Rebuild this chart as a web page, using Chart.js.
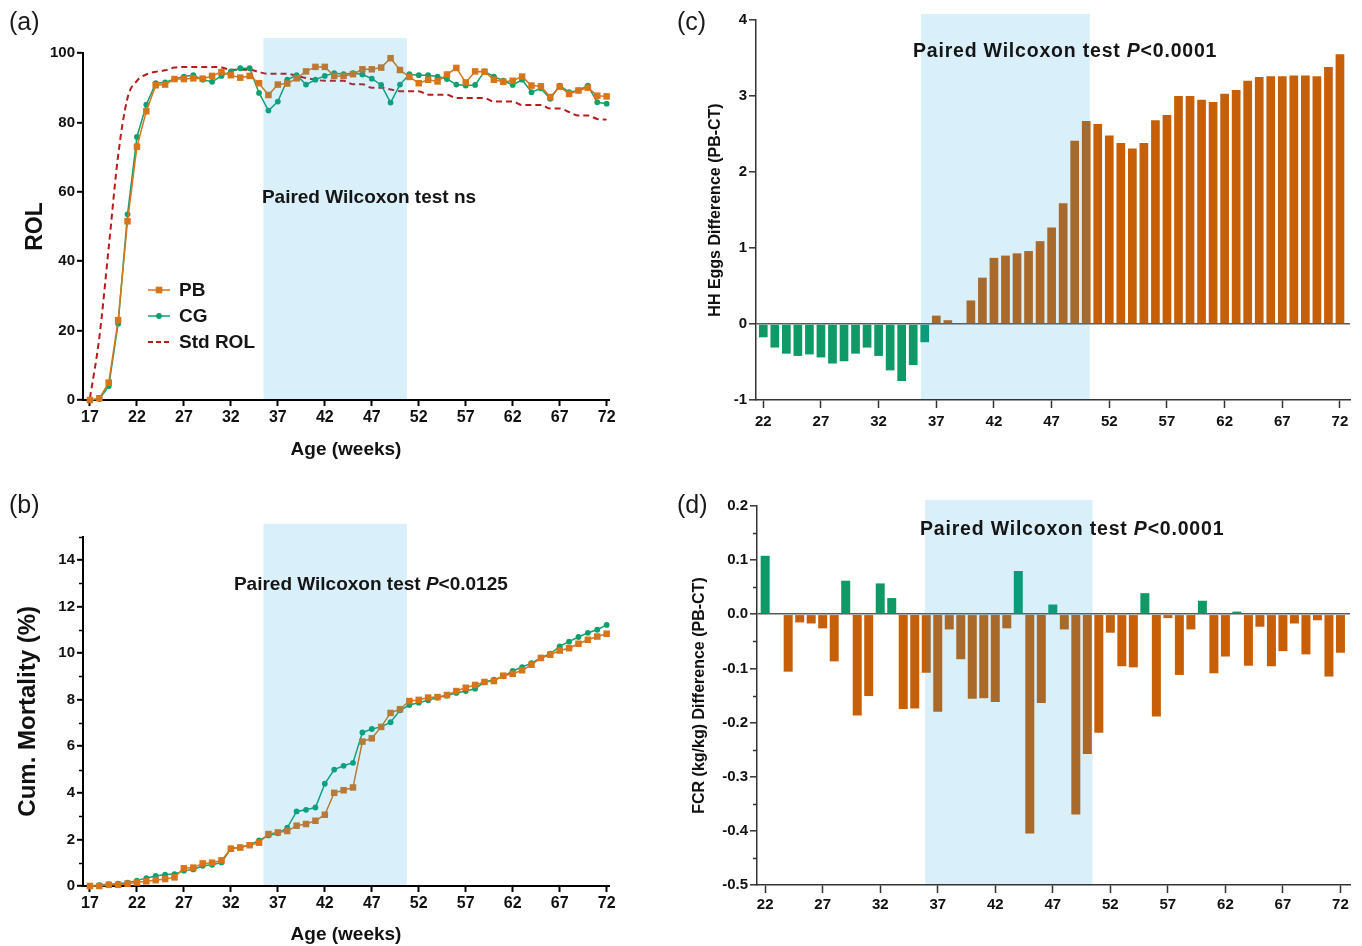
<!DOCTYPE html>
<html><head><meta charset="utf-8">
<script src="https://cdn.jsdelivr.net/npm/chart.js@4.4.1/dist/chart.umd.min.js"></script>
<style>
html,body{margin:0;padding:0;background:#fff;}
body{width:1362px;height:946px;position:relative;overflow:hidden;font-family:"Liberation Sans",Arial,sans-serif;}
canvas{position:absolute;}
.lbl{position:absolute;font-size:25px;color:#1a1a1a;line-height:1;}
</style></head><body>
<canvas id="ca" width="681" height="473" style="left:0;top:0"></canvas>
<canvas id="cb" width="681" height="473" style="left:0;top:473px"></canvas>
<canvas id="cc" width="681" height="473" style="left:681px;top:0"></canvas>
<canvas id="cd" width="681" height="473" style="left:681px;top:473px"></canvas>
<div class="lbl" style="left:9px;top:9px">(a)</div>
<div class="lbl" style="left:9px;top:492px">(b)</div>
<div class="lbl" style="left:677px;top:9px">(c)</div>
<div class="lbl" style="left:677px;top:492px">(d)</div>
<script>
// ---------------- DATA ----------------
const weeks=[17,18,19,20,21,22,23,24,25,26,27,28,29,30,31,32,33,34,35,36,37,38,39,40,41,42,43,44,45,46,47,48,49,50,51,52,53,54,55,56,57,58,59,60,61,62,63,64,65,66,67,68,69,70,71,72];
const rolPB=[0,0.5,5,23,51.5,73.0,83.2,90.7,90.9,92.5,92.5,92.7,92.6,93.4,94.5,93.6,92.9,93.4,91.3,87.9,90.9,91.2,92.7,94.7,96.0,96.0,93.4,93.4,93.9,95.3,95.3,95.8,98.5,95.1,93.1,91.3,92.3,91.8,93.8,95.7,91.5,94.7,94.6,92.3,91.7,92.0,93.2,90.6,90.4,87.3,90.3,88.2,89.2,90.0,87.7,87.5];
const rolCG=[0,0.3,4,22,53.5,75.8,85.1,91.3,91.5,92.5,93.2,93.6,92.3,91.7,93.4,94.7,95.6,95.6,88.5,83.4,86.0,92.3,93.6,90.9,92.3,93.4,94.2,93.9,94.2,93.8,92.6,90.8,85.7,90.9,93.9,93.6,93.6,93.2,92.5,90.9,90.6,90.8,94.7,93.2,92.0,90.8,92.3,88.7,89.8,86.8,90.6,88.7,89.2,90.6,85.8,85.4];
const rolStd=[0.5,18,44,70.5,87,92,93.8,94.6,95,95.8,96,96,96,96,95.8,95.2,95.2,95.2,94.5,94,94,94,93.4,92.8,92.3,92,92,92,91,91,90,90,89.5,89,89,89,88,88,88,87,87,87,87,86,86,86,85,85,85,84,84,83,82,82,81,80.8];
const mortPB=[0,0,0.05,0.05,0.1,0.15,0.2,0.25,0.3,0.37,0.76,0.79,0.97,1.0,1.1,1.6,1.65,1.75,1.86,2.23,2.3,2.36,2.59,2.66,2.8,3.06,4.0,4.11,4.23,6.2,6.34,6.83,7.43,7.59,7.94,7.99,8.09,8.11,8.2,8.37,8.51,8.63,8.76,8.8,9.03,9.11,9.26,9.5,9.79,9.93,10.11,10.21,10.4,10.57,10.71,10.83];
const mortCG=[0,0.04,0.08,0.1,0.14,0.23,0.34,0.43,0.49,0.51,0.66,0.71,0.87,0.91,1.01,1.61,1.66,1.76,1.96,2.17,2.26,2.5,3.2,3.27,3.37,4.39,5.0,5.16,5.29,6.59,6.74,6.83,7.03,7.54,7.77,7.87,7.97,8.09,8.17,8.29,8.37,8.47,8.76,8.86,9.0,9.23,9.4,9.57,9.8,9.97,10.29,10.49,10.69,10.87,11.0,11.21];
const barWeeks=[22,23,24,25,26,27,28,29,30,31,32,33,34,35,36,37,38,39,40,41,42,43,44,45,46,47,48,49,50,51,52,53,54,55,56,57,58,59,60,61,62,63,64,65,66,67,68,69,70,71,72];
const hhDiff=[-0.175,-0.31,-0.39,-0.42,-0.40,-0.44,-0.52,-0.49,-0.39,-0.31,-0.42,-0.61,-0.75,-0.54,-0.24,0.11,0.05,0,0.31,0.61,0.87,0.90,0.93,0.96,1.09,1.27,1.59,2.41,2.67,2.63,2.48,2.38,2.31,2.38,2.68,2.75,3.0,3.0,2.95,2.92,3.03,3.08,3.2,3.25,3.26,3.26,3.27,3.27,3.26,3.38,3.55];
const fcrDiff=[0.108,0,-0.106,-0.015,-0.017,-0.026,-0.087,0.062,-0.187,-0.151,0.057,0.030,-0.175,-0.174,-0.108,-0.180,-0.028,-0.083,-0.156,-0.155,-0.162,-0.026,0.080,-0.405,-0.164,0.018,-0.028,-0.370,-0.258,-0.219,-0.034,-0.096,-0.098,0.039,-0.189,-0.007,-0.112,-0.028,0.025,-0.109,-0.078,0.005,-0.095,-0.023,-0.096,-0.068,-0.017,-0.074,-0.011,-0.115,-0.071];
const ageTicks=[17,22,27,32,37,42,47,52,57,62,67,72];
const barTicks=[22,27,32,37,42,47,52,57,62,67,72];
const rolTicks=[0,20,40,60,80,100];
const mortTicks=[0,2,4,6,8,10,12,14];
const mortMinor=[1,3,5,7,9,11,13,15];
const hhTicks=[-1,0,1,2,3,4];
const fcrTicks=[-0.5,-0.4,-0.3,-0.2,-0.1,0,0.1,0.2];
const fcrMinor=[-0.45,-0.35,-0.25,-0.15,-0.05,0.05,0.15];
const seriesNames=['PB','CG','Std ROL'];
const testA='ns', testB='0.0125', testCD='0.0001';

// ---------------- STYLE ----------------
const FONT='"Liberation Sans", Arial, Helvetica, sans-serif';
const C_OR='#D8741A', C_GR='#0FA06D', C_RED='#B71C1C', C_BOR='#C65F08', C_BGR='#0E9966';
const SHADE='rgba(10,158,229,0.155)';
Chart.defaults.font.family=FONT;
Chart.defaults.color='#111';
Chart.defaults.animation=false;

const shadePlugin={id:'shade',afterDatasetsDraw(chart,args,o){
  const {ctx,scales:{x,y},chartArea}=chart;
  const x0=x.getPixelForValue(o.from),x1=x.getPixelForValue(o.to);
  const yT=y.getPixelForValue(o.top),yB=chartArea.bottom-1;
  ctx.save();ctx.fillStyle=SHADE;ctx.fillRect(x0,yT,x1-x0,yB-yT);ctx.restore();
}};
const notePlugin={id:'note',afterDraw(chart,args,o){
  const {ctx,scales:{x,y}}=chart;
  const cx=x.getPixelForValue(o.x),cy=y.getPixelForValue(o.y);
  ctx.save();
  ctx.letterSpacing=(o.spacing||0)+'px';
  ctx.fillStyle='#151515';ctx.textBaseline='middle';ctx.textAlign='left';
  const fN='bold '+o.size+'px '+FONT, fI='italic bold '+o.size+'px '+FONT;
  let w=0;o.parts.forEach(p=>{ctx.font=p.i?fI:fN;w+=ctx.measureText(p.t).width;});
  let cur=cx-w/2;
  o.parts.forEach(p=>{ctx.font=p.i?fI:fN;ctx.fillText(p.t,cur,cy);cur+=ctx.measureText(p.t).width;});
  ctx.letterSpacing='0px';
  ctx.restore();
}};
const minorPlugin={id:'minor',afterDraw(chart,args,o){
  if(!o.values)return;
  const {ctx,scales:{y},chartArea}=chart;
  ctx.save();ctx.strokeStyle=o.color;ctx.lineWidth=o.width;
  o.values.forEach(v=>{const py=Math.round(y.getPixelForValue(v))+0.5;ctx.beginPath();ctx.moveTo(chartArea.left-o.len,py);ctx.lineTo(chartArea.left,py);ctx.stroke();});
  ctx.restore();
}};
const legendPlugin={id:'customLegend',afterDraw(chart,args,o){
  if(!o.items)return;
  const {ctx}=chart;
  ctx.save();
  o.items.forEach((it,i)=>{
    const yy=o.y+i*o.dy;
    ctx.strokeStyle=it.color;ctx.lineWidth=it.lw;ctx.setLineDash(it.dash);
    ctx.beginPath();ctx.moveTo(o.x,yy);ctx.lineTo(o.x+o.len,yy);ctx.stroke();
    ctx.setLineDash([]);ctx.fillStyle=it.color;
    if(it.marker==='rect'){ctx.fillRect(o.x+o.len/2-3.3,yy-3.3,6.6,6.6);}
    else if(it.marker==='circle'){ctx.beginPath();ctx.arc(o.x+o.len/2,yy,2.9,0,Math.PI*2);ctx.fill();}
    ctx.fillStyle='#151515';ctx.font='bold '+o.size+'px '+FONT;ctx.textBaseline='middle';
    ctx.fillText(it.label,o.x+o.len+9,yy+1);
  });
  ctx.restore();
}};

function xAxis(min,max,ticks,height,o){
  return {type:'linear',min,max,offset:false,
    afterBuildTicks:s=>{s.ticks=ticks.map(v=>({value:v}));},
    afterFit:s=>{s.height=height;},
    border:{display:true,color:o.color,width:o.bw},
    grid:{display:true,offset:false,drawOnChartArea:false,drawTicks:true,tickLength:o.tl,tickWidth:o.bw,tickColor:o.color},
    ticks:{font:{family:FONT,size:o.fs,weight:'bold'},color:'#111',padding:o.pad,maxRotation:0,autoSkip:false},
    title:o.title?{display:true,text:o.title,font:{family:FONT,size:19,weight:'bold'},color:'#111',padding:{top:0,bottom:o.tpb}}:{display:false}
  };
}
function yAxis(min,max,ticks,width,o){
  return {type:'linear',min,max,
    afterBuildTicks:s=>{s.ticks=ticks.map(v=>({value:v}));},
    afterFit:s=>{s.width=width;},
    border:{display:true,color:o.color,width:o.bw},
    grid:{display:true,drawOnChartArea:!!o.zero,drawTicks:true,tickLength:o.tl,tickWidth:o.bw,tickColor:o.color,
      color:c=>(o.zero&&c.tick&&Math.abs(c.tick.value)<1e-9)?'#5a5a5a':'rgba(0,0,0,0)',lineWidth:1.6},
    ticks:{font:{family:FONT,size:o.fs,weight:'bold'},color:'#111',padding:o.pad,callback:o.cb||(v=>v)},
    title:{display:true,text:o.title,font:{family:FONT,size:o.tfs,weight:'bold'},color:'#111',padding:{top:o.tpt,bottom:0}}
  };
}
const pts=(xs,ys)=>xs.map((x,i)=>({x,y:ys[i]}));

function lineDs(label,vals,color,style,r){
  return {label,data:pts(weeks,vals),borderColor:color,backgroundColor:color,borderWidth:1.5,
    pointStyle:style,pointRadius:r,pointHoverRadius:r,pointBorderWidth:0,clip:false,tension:0};
}

// ---- (a) ROL ----
new Chart(document.getElementById('ca'),{type:'line',
  data:{datasets:[
    lineDs(seriesNames[0],rolPB,C_OR,'rect',4.6),
    lineDs(seriesNames[1],rolCG,C_GR,'circle',2.9),
    {label:seriesNames[2],data:pts(weeks,rolStd),borderColor:C_RED,borderWidth:2,borderDash:[6,4],pointRadius:0,cubicInterpolationMode:'monotone',clip:false}
  ]},
  options:{responsive:false,devicePixelRatio:1,
    layout:{padding:{left:0,right:72,top:53,bottom:0}},
    scales:{
      x:xAxis(16.26,72.25,ageTicks,73,{color:'#000',bw:2,tl:6,fs:16,pad:2,title:'Age (weeks)',tpb:11.6}),
      y:yAxis(0,100,rolTicks,83,{color:'#000',bw:2,tl:6,fs:15,pad:2,title:'ROL',tfs:23,tpt:22})
    },
    plugins:{legend:{display:false},tooltip:{enabled:false},
      shade:{from:35.47,to:50.73,top:104.3},
      note:{x:46.7,y:58.2,size:19,parts:[{t:'Paired Wilcoxon test '+testA}]},
      customLegend:{x:148,y:290,dy:26,len:22,size:19,items:[
        {label:seriesNames[0],color:C_OR,lw:1.5,dash:[],marker:'rect'},
        {label:seriesNames[1],color:C_GR,lw:1.5,dash:[],marker:'circle'},
        {label:seriesNames[2],color:C_RED,lw:2,dash:[5,3],marker:null}]}
    }},
  plugins:[shadePlugin,notePlugin,legendPlugin]
});

// ---- (b) Mortality ----
new Chart(document.getElementById('cb'),{type:'line',
  data:{datasets:[
    lineDs(seriesNames[0],mortPB,C_OR,'rect',4.6),
    lineDs(seriesNames[1],mortCG,C_GR,'circle',2.9)
  ]},
  options:{responsive:false,devicePixelRatio:1,
    layout:{padding:{left:0,right:72,top:63.6,bottom:0}},
    scales:{
      x:xAxis(16.26,72.25,ageTicks,60,{color:'#000',bw:2,tl:6,fs:16,pad:2,title:'Age (weeks)',tpb:0}),
      y:yAxis(0,15,mortTicks,83,{color:'#000',bw:2,tl:6,fs:15,pad:2,title:'Cum. Mortality (%)',tfs:24,tpt:13.6})
    },
    plugins:{legend:{display:false},tooltip:{enabled:false},
      shade:{from:35.47,to:50.73,top:15.55},
      note:{x:46.9,y:12.92,size:19,parts:[{t:'Paired Wilcoxon test '},{t:'P',i:true},{t:'<'+testB}]},
      minor:{values:mortMinor,len:4,color:'#000',width:1.5}
    }},
  plugins:[shadePlugin,notePlugin,minorPlugin]
});

// (c): PB-CT < 0 shown green, > 0 orange;  (d): FCR difference > 0 green, < 0 orange
const colorNegGreen=c=>{const v=c.raw&&c.raw.y;return v<0?C_BGR:C_BOR;};
const colorPosGreen=c=>{const v=c.raw&&c.raw.y;return v>0?C_BGR:C_BOR;};
// ---- (c) HH eggs ----
new Chart(document.getElementById('cc'),{type:'bar',
  data:{datasets:[{label:'HH Eggs Difference',data:pts(barWeeks,hhDiff),backgroundColor:colorNegGreen,borderWidth:0,barPercentage:0.92,categoryPercentage:0.82}]},
  options:{responsive:false,devicePixelRatio:1,
    layout:{padding:{left:0,right:12,top:20,bottom:0}},
    scales:{
      x:xAxis(21.37,72.87,barTicks,73,{color:'#333',bw:1.5,tl:8,fs:15,pad:5}),
      y:yAxis(-1,4,hhTicks,75,{color:'#333',bw:1.5,tl:7,fs:15,pad:2,title:'HH Eggs Difference (PB-CT)',tfs:16,tpt:25.4,zero:true})
    },
    plugins:{legend:{display:false},tooltip:{enabled:false},
      shade:{from:35.67,to:50.31,top:4.08},
      note:{x:48.17,y:3.59,size:19.5,spacing:0.8,parts:[{t:'Paired Wilcoxon test '},{t:'P',i:true},{t:'<'+testCD}]}
    }},
  plugins:[shadePlugin,notePlugin]
});

// ---- (d) FCR ----
new Chart(document.getElementById('cd'),{type:'bar',
  data:{datasets:[{label:'FCR Difference',data:pts(barWeeks,fcrDiff),backgroundColor:colorPosGreen,borderWidth:0,barPercentage:0.92,categoryPercentage:0.85}]},
  options:{responsive:false,devicePixelRatio:1,
    layout:{padding:{left:0,right:12,top:33,bottom:0}},
    scales:{
      x:xAxis(21.29,72.83,barTicks,61,{color:'#333',bw:1.5,tl:8,fs:15,pad:3}),
      y:yAxis(-0.5,0.2,fcrTicks,76,{color:'#333',bw:1.5,tl:7,fs:15,pad:2,title:'FCR (kg/kg) Difference (PB-CT)',tfs:16,tpt:9.4,zero:true,cb:v=>v.toFixed(1)})
    },
    plugins:{legend:{display:false},tooltip:{enabled:false},
      shade:{from:35.9,to:50.45,top:0.211},
      note:{x:48.68,y:0.1557,size:19.5,spacing:0.8,parts:[{t:'Paired Wilcoxon test '},{t:'P',i:true},{t:'<'+testCD}]},
      minor:{values:fcrMinor,len:4,color:'#333',width:1.5}
    }},
  plugins:[shadePlugin,notePlugin,minorPlugin]
});
</script>
</body></html>
